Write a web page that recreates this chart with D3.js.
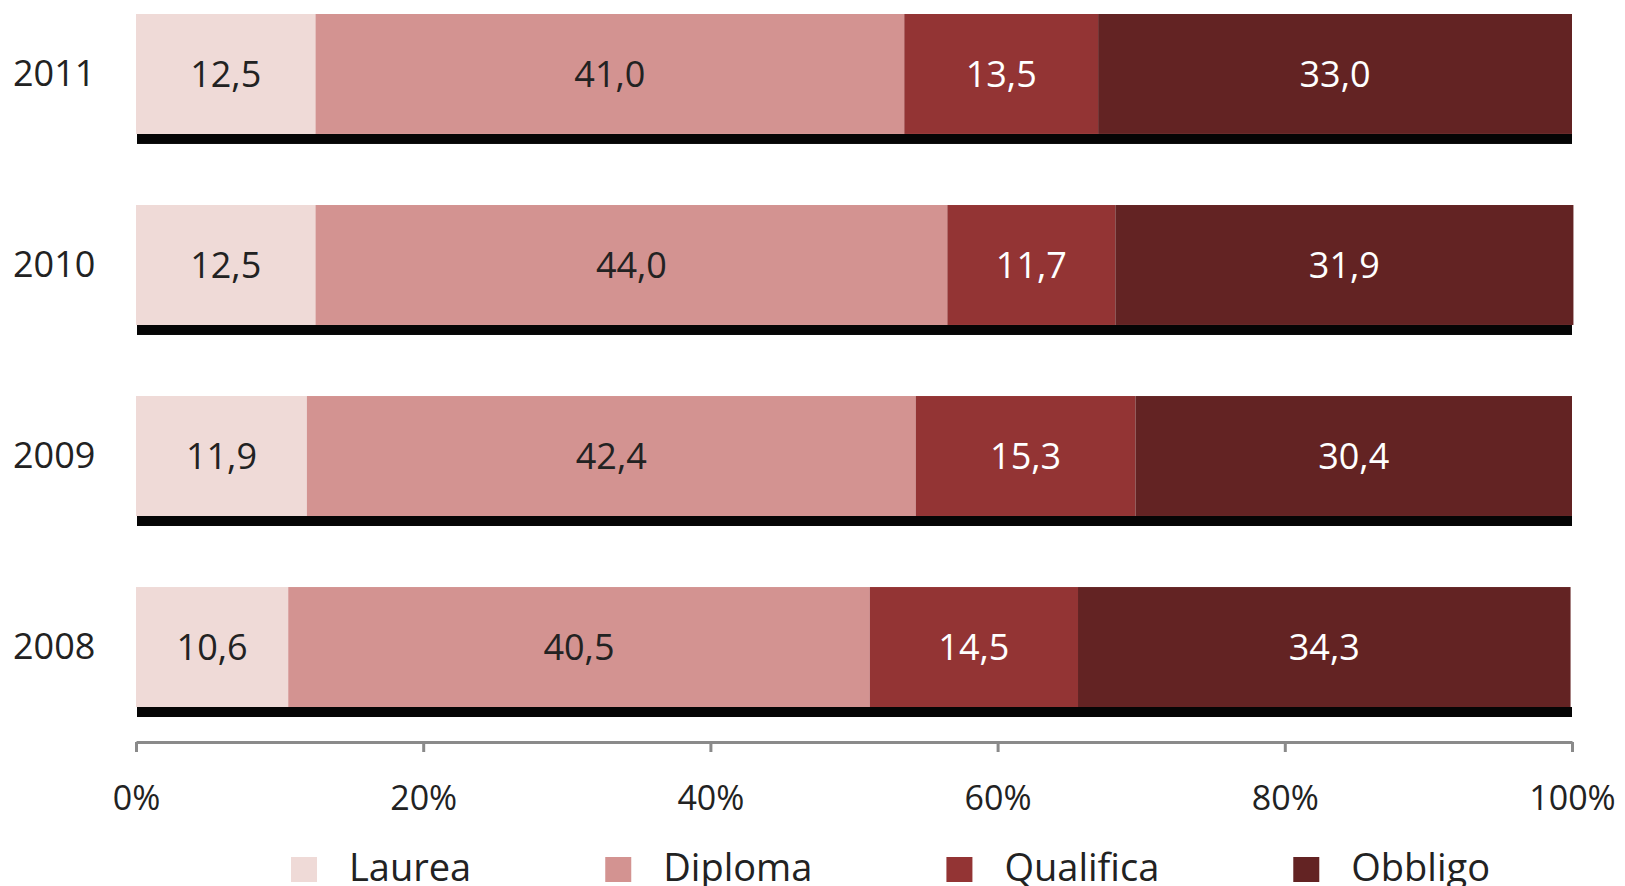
<!DOCTYPE html>
<html>
<head>
<meta charset="utf-8">
<script src="https://cdn.jsdelivr.net/npm/d3@7"></script>
<style>
  html, body { margin: 0; padding: 0; background: #fff; }
  svg { display: block; font-family: "Open Sans", sans-serif; }
</style>
</head>
<body>
<svg id="chart" width="1625" height="886"></svg>
<script>
// Years shown, top to bottom
const years = ["2011", "2010", "2009", "2008"];
// Education levels, stacked left to right
const levels = ["Laurea", "Diploma", "Qualifica", "Obbligo"];
// Percentage shares per year
const laurea    = [12.5, 12.5, 11.9, 10.6];
const diploma   = [41.0, 44.0, 42.4, 40.5];
const qualifica = [13.5, 11.7, 15.3, 14.5];
const obbligo   = [33.0, 31.9, 30.4, 34.3];
const xTicks = [0, 20, 40, 60, 80, 100];

const colors = ["#efdad7", "#d39391", "#933434", "#632323"];
const labelColors = ["#222", "#222", "#fff", "#fff"];

const rows = years.map((y, i) => ({
  year: y,
  Laurea: laurea[i], Diploma: diploma[i], Qualifica: qualifica[i], Obbligo: obbligo[i]
}));

const svg = d3.select("#chart");

const x = d3.scaleLinear().domain([0, 100]).range([136, 1572]);
const y = d3.scaleBand().domain(years).range([14, 707]).paddingInner(0.372).paddingOuter(0);

const stacked = d3.stack().keys(levels)(rows);

// drop shadow under each bar
svg.append("g").selectAll("rect")
  .data(rows)
  .join("rect")
  .attr("x", x(0) + 1)
  .attr("y", d => y(d.year) + y.bandwidth())
  .attr("width", x(100) - x(0) - 1)
  .attr("height", 10)
  .attr("fill", "#050505");

const layer = svg.append("g").selectAll("g")
  .data(stacked)
  .join("g")
  .attr("fill", (d, i) => colors[i]);

layer.selectAll("rect")
  .data(d => d)
  .join("rect")
  .attr("x", d => x(d[0]))
  .attr("y", d => y(d.data.year))
  .attr("width", d => x(d[1]) - x(d[0]))
  .attr("height", y.bandwidth());

const fmt = v => v.toFixed(1).replace(".", ",");

// value labels centred in each segment
svg.append("g").selectAll("g")
  .data(stacked)
  .join("g")
  .attr("fill", (d, i) => labelColors[i])
  .selectAll("text")
  .data(d => d.map(p => ({ p, key: d.key })))
  .join("text")
  .attr("x", d => (x(d.p[0]) + x(d.p[1])) / 2)
  .attr("y", d => y(d.p.data.year) + y.bandwidth() / 2)
  .attr("dy", "0.36em")
  .attr("text-anchor", "middle")
  .attr("font-size", 36)
  .text(d => fmt(d.p.data[d.key]));

// year labels
svg.append("g").selectAll("text")
  .data(years)
  .join("text")
  .attr("x", 13)
  .attr("y", d => y(d) + y.bandwidth() / 2 - 1)
  .attr("dy", "0.36em")
  .attr("font-size", 36)
  .attr("fill", "#222")
  .text(d => d);

// x axis
const axisY = 742;
const axis = svg.append("g")
  .attr("transform", `translate(0,${axisY})`)
  .call(d3.axisBottom(x).tickValues(xTicks).tickFormat(d => d + "%")
    .tickSizeOuter(0).tickSizeInner(10).tickPadding(34));
axis.select(".domain").attr("stroke", "#8a8a8a").attr("stroke-width", 3);
axis.selectAll(".tick line").attr("stroke", "#8a8a8a").attr("stroke-width", 3);
axis.selectAll(".tick text")
  .attr("font-family", "'Open Sans', sans-serif")
  .attr("font-size", 34)
  .attr("fill", "#222");

// legend
const legend = svg.append("g").attr("transform", "translate(291,857)");
let lx = 0;
levels.forEach((name, i) => {
  const g = legend.append("g").attr("transform", `translate(${lx},0)`);
  g.append("rect").attr("width", 26).attr("height", 25).attr("fill", colors[i]);
  const t = g.append("text")
    .attr("x", 58).attr("y", 24)
    .attr("font-size", 38).attr("fill", "#222")
    .text(name);
  lx += 58 + t.node().getComputedTextLength() + 134;
});
</script>
</body>
</html>
